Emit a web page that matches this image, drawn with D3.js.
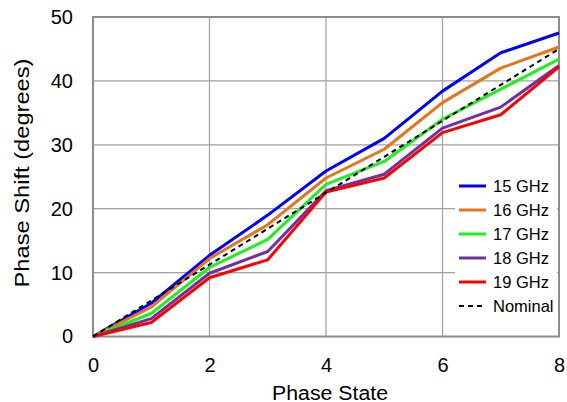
<!DOCTYPE html>
<html>
<head>
<meta charset="utf-8">
<script src="https://cdn.jsdelivr.net/npm/d3@7"></script>
<style>
  html, body { margin: 0; padding: 0; background: #fff; }
  svg { display: block; font-family: "Liberation Sans", Arial, sans-serif; }
</style>
</head>
<body>
<svg id="chart" width="567" height="402"></svg>
<script>
// Phase states on the x axis
const states = [0, 1, 2, 3, 4, 5, 6, 7, 8];

// Measured phase shift (degrees) per frequency
const ghz15 = [0, 5.2, 12.7, 19.0, 25.9, 31.0, 38.4, 44.4, 47.5];
const ghz16 = [0, 4.6, 12.2, 17.5, 24.8, 29.3, 36.6, 42.0, 45.3];
const ghz17 = [0, 3.6, 10.8, 15.2, 23.8, 27.4, 34.0, 38.7, 43.4];
const ghz18 = [0, 2.8, 9.9, 13.3, 22.8, 25.4, 32.6, 35.9, 42.4];
const ghz19 = [0, 2.2, 9.2, 12.0, 22.6, 24.8, 31.9, 34.7, 42.2];
// Ideal step of 5.625 degrees per state
const nominal = [0, 5.625, 11.25, 16.875, 22.5, 28.125, 33.75, 39.375, 45];

const seriesNames = ["15 GHz", "16 GHz", "17 GHz", "18 GHz", "19 GHz", "Nominal"];
const seriesColors = ["#0000ff", "#e8731a", "#1ef01e", "#7030a0", "#ff0000", "#000000"];

const xTicks = [0, 2, 4, 6, 8];
const yTicks = [0, 10, 20, 30, 40, 50];

const series = [ghz15, ghz16, ghz17, ghz18, ghz19, nominal].map((vals, i) => ({
  name: seriesNames[i],
  color: seriesColors[i],
  dashed: seriesNames[i] === "Nominal",
  values: vals.map((v, j) => ({ x: states[j], y: v }))
}));

const svg = d3.select("#chart");
const plotL = 93, plotR = 559, plotT = 17, plotB = 336.5;

const x = d3.scaleLinear().domain([0, 8]).range([plotL, plotR]);
const y = d3.scaleLinear().domain([0, 50]).range([plotB, plotT]);

// Gridlines
const grid = svg.append("g");
grid.selectAll("line.v").data(xTicks.slice(1, -1)).join("line")
  .attr("x1", d => x(d)).attr("x2", d => x(d))
  .attr("y1", plotT).attr("y2", plotB)
  .attr("stroke", "#a0a0a0").attr("stroke-width", 1.2);
grid.selectAll("line.h").data(yTicks.slice(1, -1)).join("line")
  .attr("x1", plotL).attr("x2", plotR)
  .attr("y1", d => y(d)).attr("y2", d => y(d))
  .attr("stroke", "#a0a0a0").attr("stroke-width", 1.2);

// Legend background masks the gridlines beneath it
svg.append("rect")
  .attr("x", 455).attr("y", 170).attr("width", 102).attr("height", 150)
  .attr("fill", "#fff");

// Plot frame
svg.append("rect")
  .attr("x", plotL).attr("y", plotT)
  .attr("width", plotR - plotL).attr("height", plotB - plotT)
  .attr("fill", "none").attr("stroke", "#8c8c8c").attr("stroke-width", 2);

// Axes (labels only; frame drawn above)
const xAxis = svg.append("g")
  .attr("transform", `translate(0,${plotB})`)
  .call(d3.axisBottom(x).tickValues(xTicks).tickSize(0).tickPadding(21).tickFormat(d3.format("d")));
const yAxis = svg.append("g")
  .attr("transform", `translate(${plotL},0)`)
  .call(d3.axisLeft(y).tickValues(yTicks).tickSize(0).tickPadding(20).tickFormat(d3.format("d")));
[xAxis, yAxis].forEach(a => {
  a.select(".domain").remove();
  a.selectAll("text")
    .attr("font-size", 20)
    .attr("fill", "#000")
    .attr("font-family", "Liberation Sans, Arial, sans-serif");
});

// Axis titles
svg.append("text")
  .attr("x", 330).attr("y", 399.5)
  .attr("text-anchor", "middle").attr("font-size", 20)
  .attr("textLength", 116).attr("lengthAdjust", "spacingAndGlyphs")
  .text("Phase State");
svg.append("text")
  .attr("transform", "translate(28.5,173) rotate(-90)")
  .attr("text-anchor", "middle").attr("font-size", 20.5)
  .attr("textLength", 229).attr("lengthAdjust", "spacingAndGlyphs")
  .text("Phase Shift (degrees)");

// Series lines
const line = d3.line().x(d => x(d.x)).y(d => y(d.y));
svg.append("g").selectAll("path").data(series).join("path")
  .attr("d", d => line(d.values))
  .attr("fill", "none")
  .attr("stroke", d => d.color)
  .attr("stroke-width", d => d.dashed ? 2 : 3)
  .attr("stroke-dasharray", d => d.dashed ? "5,4" : null)
  .attr("stroke-linejoin", "round");

// Legend entries
const lg = svg.append("g").selectAll("g").data(series).join("g")
  .attr("transform", (d, i) => `translate(459,${186 + i * 24})`);
lg.append("line")
  .attr("x1", 0).attr("x2", 27).attr("y1", 0).attr("y2", 0)
  .attr("stroke", d => d.color)
  .attr("stroke-width", d => d.dashed ? 2 : 3)
  .attr("stroke-dasharray", d => d.dashed ? "5,4" : null);
lg.append("text")
  .attr("x", 34).attr("y", 6).attr("font-size", 16.5).attr("fill", "#000")
  .text(d => d.name);
</script>
</body>
</html>
